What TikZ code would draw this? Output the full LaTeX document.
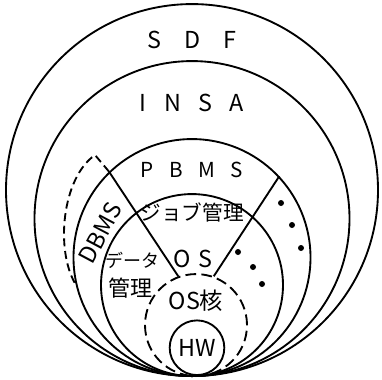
\documentclass[tikz,border=0pt]{standalone}
\usepackage{fontspec}
\setmainfont{Noto Sans CJK JP}
\usetikzlibrary{positioning}
\tikzset{
	ring/.style    ={circle, draw=black, line width=1.4pt, inner sep=0pt, anchor=south},
	dashring/.style={ring, dash pattern=on 8pt off 4pt},
	sepline/.style ={line width=1.4pt},
	dashline/.style={line width=1.4pt, dash pattern=on 6pt off 3.5pt},
	big/.style     ={font=\fontsize{17.5}{20}\selectfont, inner sep=0pt},
	mid/.style     ={font=\fontsize{15.5}{18}\selectfont, inner sep=0pt},
	dot/.style     ={circle, fill=black, inner sep=0pt, minimum size=4.5pt},
}
\begin{document}
\begin{tikzpicture}[x=0.75pt, y=-0.75pt]
	\useasboundingbox (0,0) rectangle (382,379);
	\coordinate (tp) at (192,377);
	% nested rings, all touching at the bottom
	\node[ring, minimum size=279pt] (sdf) at (tp) {};
	\node[ring, minimum size=236.25pt] (insa) at (tp) {};
	\node[ring, minimum size=177.75pt] (pbms) at (tp) {};
	\node[ring, minimum size=136.5pt] (os) at (tp) {};
	\node[dashring, minimum size=76.5pt] (core) at (196,377) {};
	\node[ring, big, minimum size=41pt] (hw) at (197,376) {HW};
	% sector borders
	\draw[sepline] (core.110) -- (pbms.134);
	\draw[sepline] (core.70) -- (pbms.43);
	\coordinate (dbtop) at (95,155);
	\draw[dashline] (pbms.134) -- (dbtop) .. controls (62,178) and (55,250) .. (pbms.193);
	% labels
	\node[big] (lsdf) at (192,40) {S\hspace{1em}D\hspace{1em}F};
	\node[big] (linsa) at (192,103) {I\hspace{0.75em}N\hspace{0.75em}S\hspace{0.75em}A};
	\node[mid] (lpbms) at (192,170) {P\hspace{0.75em}B\hspace{0.75em}M\hspace{0.75em}S};
	\node[mid] (ljob) at (192,212) {ジョブ管理};
	\node[big] (los) at (193,259) {O\hspace{0.3em}S};
	\node[font=\fontsize{13.5}{16}\selectfont, inner sep=0pt] (ldata) at (132,260) {データ};
	\node[font=\fontsize{16.5}{19}\selectfont, inner sep=0pt] (lkanri) at (130,288) {管理};
	\node[big] (lcore) at (196,301) {OS核};
	\node[big, rotate=62] (ldbms) at (100,233) {DBMS};
	% further sectors left open
	\foreach \i/\x/\y in {1/281/203, 2/292/225, 3/301/248, 4/238/252, 5/253/267, 6/262/284}
		\node[dot] (dot\i) at (\x,\y) {};
\end{tikzpicture}
\end{document}
